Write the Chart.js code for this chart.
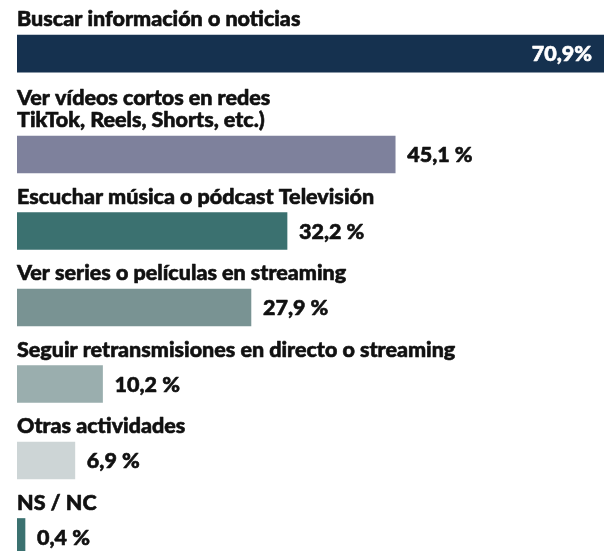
<!DOCTYPE html>
<html>
<head>
<meta charset="utf-8">
<script src="https://cdn.jsdelivr.net/npm/chart.js@4/dist/chart.umd.min.js"></script>
<style>
  html, body { margin: 0; padding: 0; background: #ffffff; }
  #wrap { width: 604px; height: 551px; }
</style>
</head>
<body>
<div id="wrap"><canvas id="c" width="604" height="551"></canvas></div>
<script>
// ---- data ----
const categories = [
  ["Buscar información o noticias"],
  ["Ver vídeos cortos en redes", "TikTok, Reels, Shorts, etc.)"],
  ["Escuchar música o pódcast Televisión"],
  ["Ver series o películas en streaming"],
  ["Seguir retransmisiones en directo o streaming"],
  ["Otras actividades"],
  ["NS / NC"]
];
const values = [70.9, 45.1, 32.2, 27.9, 10.2, 6.9, 0.4];
const valueLabels = ["70,9%", "45,1 %", "32,2 %", "27,9 %", "10,2 %", "6,9 %", "0,4 %"];
const colors = ["#15314f", "#7e819c", "#3b7170", "#799393", "#9aaeae", "#cdd5d6", "#3b7170"];

// ---- layout helpers ----
const EXTRA_LINE = 0.32; // extra row space per additional label line (in row units)
let acc = 0;
const rowPos = categories.map((lines, i) => { acc += (lines.length - 1) * EXTRA_LINE; return i + acc; });
const points = values.map((v, i) => ({ x: v, y: rowPos[i] }));

const FONT = "900 21.5px Lato, 'Open Sans', sans-serif";

function heavyText(ctx, txt, x, y, color) {
  ctx.fillStyle = color;
  ctx.strokeStyle = color;
  ctx.lineWidth = 0.6;
  ctx.lineJoin = "round";
  ctx.fillText(txt, x, y);
  ctx.strokeText(txt, x, y);
}

const labelPlugin = {
  id: 'labels',
  afterDatasetsDraw(chart) {
    const ctx = chart.ctx;
    const meta = chart.getDatasetMeta(0);
    ctx.save();
    ctx.font = FONT;
    meta.data.forEach((el, i) => {
      const top = el.y - el.height / 2;
      const left = el.base;
      ctx.textAlign = "left";
      ctx.textBaseline = "alphabetic";
      const lines = categories[i];
      for (let k = lines.length - 1, n = 0; k >= 0; k--, n++) {
        heavyText(ctx, lines[k], left, top - 9 - n * 22, "#111111");
      }
      ctx.textBaseline = "middle";
      if (i === 0) {
        ctx.textAlign = "right";
        heavyText(ctx, valueLabels[i], 592, el.y + 1, "#ffffff");
      } else {
        ctx.textAlign = "left";
        heavyText(ctx, valueLabels[i], el.x + 12, el.y + 1, "#111111");
      }
    });
    ctx.restore();
  }
};

function draw() {
  new Chart(document.getElementById('c'), {
    type: 'bar',
    data: {
      datasets: [{
        data: points,
        backgroundColor: colors,
        borderWidth: 0,
        barThickness: 37,
        minBarLength: 8
      }]
    },
    options: {
      indexAxis: 'y',
      responsive: false,
      animation: false,
      layout: { padding: { left: 17, right: 0, top: 0, bottom: 0 } },
      plugins: { legend: { display: false }, tooltip: { enabled: false } },
      scales: {
        x: { type: 'linear', bounds: 'data', offset: false, min: 0, max: 70, display: false },
        y: { type: 'linear', bounds: 'data', offset: false, reverse: true, min: -0.70, max: 6.503, display: false }
      }
    },
    plugins: [labelPlugin]
  });
}
if (document.fonts && document.fonts.load) {
  document.fonts.load(FONT).then(draw, draw);
} else { draw(); }
</script>
</body>
</html>
